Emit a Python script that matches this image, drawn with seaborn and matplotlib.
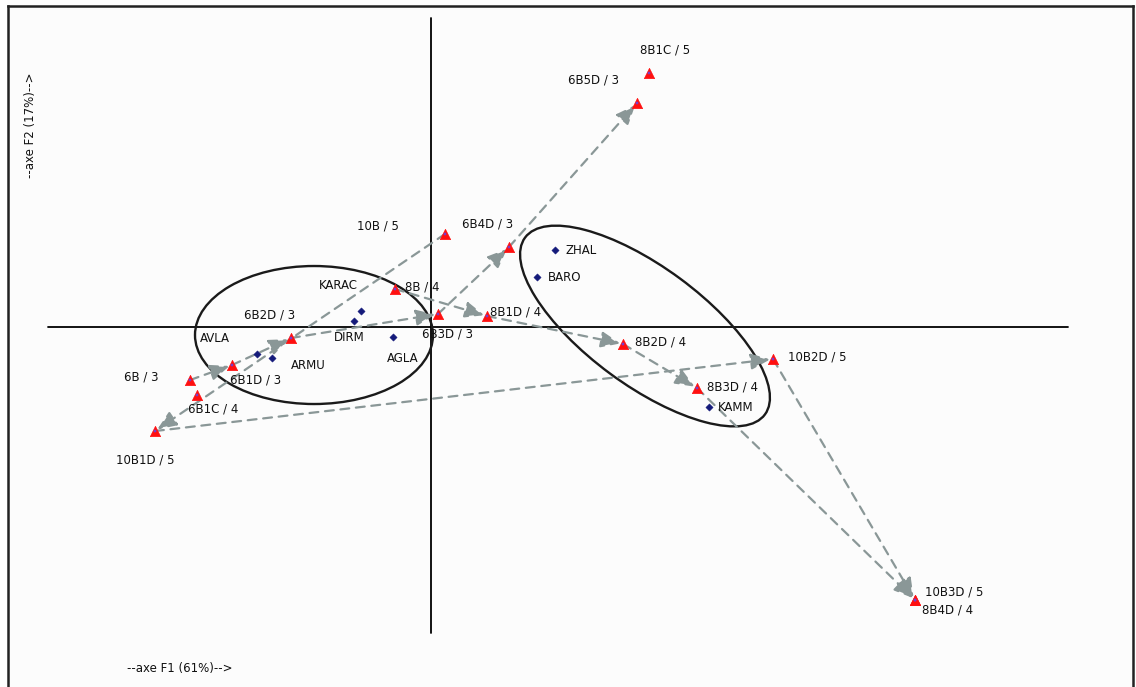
import matplotlib
matplotlib.use("Agg")
import matplotlib.pyplot as plt
from matplotlib.patches import Ellipse
import numpy as np
import pandas as pd
import seaborn as sns

# Correspondence analysis: factor scores on F1 / F2
col_names = ["8B1C / 5", "6B5D / 3", "10B / 5", "6B4D / 3", "8B / 4", "6B3D / 3",
             "8B1D / 4", "8B2D / 4", "10B2D / 5", "8B3D / 4", "6B2D / 3", "6B1D / 3",
             "6B / 3", "6B1C / 4", "10B1D / 5", "10B3D / 5", "8B4D / 4"]
col_f1 = [1.09, 1.03, 0.07, 0.39, -0.18, 0.035, 0.28, 0.96, 1.71, 1.33, -0.70, -0.995,
          -1.205, -1.17, -1.38, 2.42, 2.42]
col_f2 = [1.27, 1.12, 0.465, 0.40, 0.19, 0.065, 0.055, -0.085, -0.16, -0.305, -0.055, -0.19,
          -0.265, -0.34, -0.52, -1.365, -1.365]

row_names = ["ZHAL", "BARO", "KARAC", "DIRM", "AGLA", "AVLA", "ARMU", "KAMM"]
row_f1 = [0.62, 0.53, -0.35, -0.385, -0.19, -0.87, -0.795, 1.39]
row_f2 = [0.385, 0.25, 0.08, 0.03, -0.05, -0.135, -0.155, -0.40]

# Trajectories linking successive modalities of each series
trajectories = [
    ["6B / 3", "6B1D / 3", "6B2D / 3", "6B3D / 3", "6B4D / 3", "6B5D / 3"],
    ["8B / 4", "8B1D / 4", "8B2D / 4", "8B3D / 4", "8B4D / 4"],
    ["10B / 5", "10B1D / 5", "10B2D / 5", "10B3D / 5"],
]

# Group ellipses: centre F1, centre F2, width, height, angle
ellipse_cx = [-0.585, 1.07]
ellipse_cy = [-0.04, 0.005]
ellipse_w = [1.19, 1.49]
ellipse_h = [0.69, 0.59]
ellipse_ang = [0.0, -36.4]

axis_label_f1 = "--axe F1 (61%)-->"
axis_label_f2 = "--axe F2 (17%)-->"

# Label placement: offset in pixels (x right, y down) and alignment
label_pos = {
    "8B1C / 5": (16, -23, "center"), "6B5D / 3": (-43, -23, "center"),
    "10B / 5": (-67, -8, "center"), "6B4D / 3": (-21, -23, "center"),
    "8B / 4": (10, -2, "left"), "6B3D / 3": (9, 20, "center"),
    "8B1D / 4": (3, -4, "left"), "8B2D / 4": (12, -2, "left"),
    "10B2D / 5": (15, -2, "left"), "8B3D / 4": (10, -1, "left"),
    "6B2D / 3": (-21, -23, "center"), "6B1D / 3": (24, 15, "center"),
    "6B / 3": (-32, -3, "right"), "6B1C / 4": (16, 14, "center"),
    "10B1D / 5": (-10, 29, "center"), "10B3D / 5": (10, -8, "left"),
    "8B4D / 4": (7, 10, "left"),
    "ZHAL": (10, 0, "left"), "BARO": (11, 0, "left"), "KARAC": (-23, -26, "center"),
    "DIRM": (-5, 16, "center"), "AGLA": (10, 21, "center"), "AVLA": (-42, -16, "center"),
    "ARMU": (36, 7, "center"), "KAMM": (9, 0, "left"),
}

cols = pd.DataFrame({"name": col_names, "F1": col_f1, "F2": col_f2})
rows = pd.DataFrame({"name": row_names, "F1": row_f1, "F2": row_f2})

sns.set_theme(style="white")
plt.rcParams["font.family"] = ["DejaVu Sans"]

W, H = 1136, 687
fig = plt.figure(figsize=(W / 100, H / 100), dpi=100, facecolor="white")
ax = fig.add_axes([8 / W, -0.02, 1125 / W, 681 / H + 0.02])
ax.set_facecolor("#fcfcfc")
ax.set_xlim(-2.115, 3.51)
ax.set_ylim(-1.8685, 1.605)
ax.set_xticks([])
ax.set_yticks([])
for side in ["left", "top", "right"]:
    ax.spines[side].set_visible(True)
    ax.spines[side].set_color("#222222")
    ax.spines[side].set_linewidth(1.8)
ax.spines["bottom"].set_visible(False)

# Factorial axes
ax.plot([-1.915, 3.185], [0, 0], color="black", lw=1.3, zorder=1)
ax.plot([0, 0], [-1.53, 1.545], color="black", lw=1.3, zorder=1)

# Ellipses
for cx, cy, w, h, a in zip(ellipse_cx, ellipse_cy, ellipse_w, ellipse_h, ellipse_ang):
    ax.add_patch(Ellipse((cx, cy), w, h, angle=a, fill=False, edgecolor="#1a1a1a",
                         lw=1.7, zorder=2))

# Trajectory arrows
pos = {n: (x, y) for n, x, y in zip(cols["name"], cols["F1"], cols["F2"])}
arrow_col = "#8a9797"
for path in trajectories:
    for a, b in zip(path[:-1], path[1:]):
        ax.annotate("", xy=pos[b], xytext=pos[a],
                    arrowprops=dict(arrowstyle="-|>,head_length=0.65,head_width=0.27",
                                    color=arrow_col, lw=1.6, linestyle=(0, (4, 3)),
                                    mutation_scale=18, shrinkA=0, shrinkB=2),
                    zorder=3)

# Points
sns.scatterplot(data=cols, x="F1", y="F2", marker="^", s=55, color="#ff1010",
                edgecolor="#ff1010", linewidth=0.5, ax=ax, zorder=4, legend=False)
sns.scatterplot(data=cols, x="F1", y="F2", marker="o", s=4, color="#7a3cc8",
                edgecolor="none", ax=ax, zorder=5, legend=False)
sns.scatterplot(data=rows, x="F1", y="F2", marker="D", s=14, color="#141a7a",
                edgecolor="#141a7a", ax=ax, zorder=5, legend=False)
ax.set_xlabel("")
ax.set_ylabel("")

# Labels
for df in (cols, rows):
    for n, x, y in zip(df["name"], df["F1"], df["F2"]):
        dx, dy, ha = label_pos[n]
        ax.annotate(n, xy=(x, y), xytext=(dx * 0.72, -dy * 0.72),
                    textcoords="offset points", ha=ha, va="center",
                    fontsize=8.5, color="#111111", zorder=6)

# Axis titles
ax.text(-2.005, 1.01, axis_label_f2, rotation=90, ha="center", va="center",
        fontsize=8.5, color="#111111")
ax.text(-1.255, -1.705, axis_label_f1, ha="center", va="center",
        fontsize=8.5, color="#111111")

fig.savefig("out.png", dpi=100, facecolor="white")
